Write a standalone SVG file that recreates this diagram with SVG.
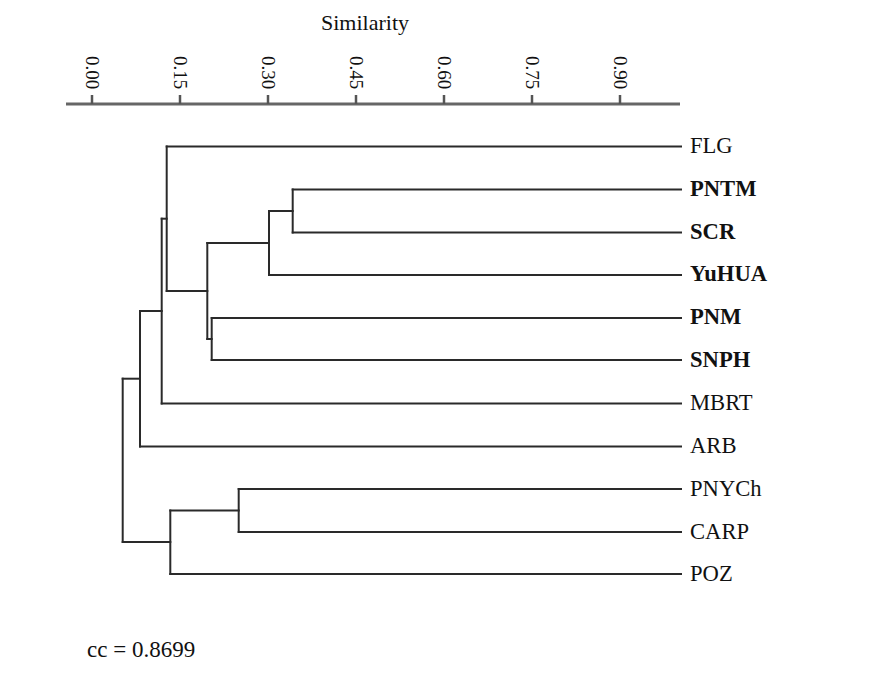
<svg xmlns="http://www.w3.org/2000/svg" width="872" height="673" viewBox="0 0 872 673">
<style>
.t{font-family:"Liberation Serif","Times New Roman",serif;fill:#111}
.lbl{font-size:22.6px}
.b{font-weight:bold}
.tick{font-size:19px}
.ln{stroke:#2a2a2a;stroke-width:2;fill:none;stroke-linecap:square}
.ax{stroke:#666;stroke-width:3;fill:none}
.tk{stroke:#555;stroke-width:2.5;fill:none}
</style>
<rect width="872" height="673" fill="#fff"/>
<g id="axis">
<text class="t" x="365" y="30" font-size="22" text-anchor="middle">Similarity</text>
<line class="ax" x1="66" y1="104" x2="680" y2="104"/>
<g class="tk">
<line x1="92" y1="95" x2="92" y2="104"/>
<line x1="180" y1="95" x2="180" y2="104"/>
<line x1="268" y1="95" x2="268" y2="104"/>
<line x1="356" y1="95" x2="356" y2="104"/>
<line x1="444" y1="95" x2="444" y2="104"/>
<line x1="532" y1="95" x2="532" y2="104"/>
<line x1="620" y1="95" x2="620" y2="104"/>
</g>
<g class="t tick">
<text transform="translate(85.5,56) rotate(90)">0.00</text>
<text transform="translate(173.5,56) rotate(90)">0.15</text>
<text transform="translate(261.5,56) rotate(90)">0.30</text>
<text transform="translate(349.5,56) rotate(90)">0.45</text>
<text transform="translate(437.5,56) rotate(90)">0.60</text>
<text transform="translate(525.5,56) rotate(90)">0.75</text>
<text transform="translate(613.5,56) rotate(90)">0.90</text>
</g>
</g>
<g id="connectors" class="ln">
<path d="M166.7 146.5H681"/>
<path d="M292.7 189.5H681"/>
<path d="M292.7 232.5H681"/>
<path d="M269 275H681"/>
<path d="M211.7 318H681"/>
<path d="M211.7 360H681"/>
<path d="M161.7 403.5H681"/>
<path d="M140 446.5H681"/>
<path d="M238.7 489H681"/>
<path d="M238.7 532H681"/>
<path d="M170.3 574H681"/>
<path d="M292.7 189.5V232.5"/>
<path d="M269 211V275"/>
<path d="M211.7 318V360"/>
<path d="M207.3 243V339"/>
<path d="M166.7 146.5V291"/>
<path d="M161.7 218.7V403.5"/>
<path d="M140 311V446.5"/>
<path d="M238.7 489V532"/>
<path d="M170.3 510.5V574"/>
<path d="M122.7 378.7V542"/>
<path d="M269 211H292.7"/>
<path d="M207.3 243H269"/>
<path d="M207.3 339H211.7"/>
<path d="M166.7 291H207.3"/>
<path d="M161.7 218.7H166.7"/>
<path d="M140 311H161.7"/>
<path d="M122.7 378.7H140"/>
<path d="M170.3 510.5H238.7"/>
<path d="M122.7 542H170.3"/>
</g>
<g id="FLG"><text class="t lbl" x="690" y="153">FLG</text></g>
<g id="PNTM"><text class="t lbl b" x="690" y="196">PNTM</text></g>
<g id="SCR"><text class="t lbl b" x="690" y="239">SCR</text></g>
<g id="YuHUA"><text class="t lbl b" x="690" y="281">YuHUA</text></g>
<g id="PNM"><text class="t lbl b" x="690" y="324">PNM</text></g>
<g id="SNPH"><text class="t lbl b" x="690" y="366.5">SNPH</text></g>
<g id="MBRT"><text class="t lbl" x="690" y="410">MBRT</text></g>
<g id="ARB"><text class="t lbl" x="690" y="453">ARB</text></g>
<g id="PNYCh"><text class="t lbl" x="690" y="495.5">PNYCh</text></g>
<g id="CARP"><text class="t lbl" x="690" y="538.5">CARP</text></g>
<g id="POZ"><text class="t lbl" x="690" y="580.5">POZ</text></g>
<g id="cc"><text class="t" x="87" y="657" font-size="23">cc = 0.8699</text></g>
</svg>
